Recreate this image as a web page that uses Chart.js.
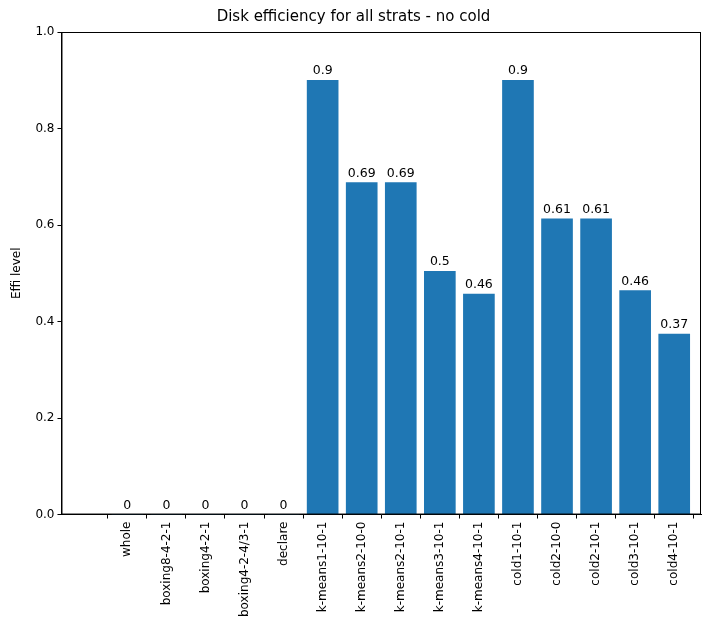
<!DOCTYPE html>
<html>
<head>
<meta charset="utf-8">
<script src="https://cdn.jsdelivr.net/npm/chart.js@4"></script>
<style>
  body { margin: 0; background: #fff; }
  #wrap { width: 711px; height: 640px; }
</style>
</head>
<body>
<div id="wrap"><canvas id="chart"></canvas></div>
<script>
const categories = ["whole", "boxing8-4-2-1", "boxing4-2-1", "boxing4-2-4/3-1", "declare",
  "k-means1-10-1", "k-means2-10-0", "k-means2-10-1", "k-means3-10-1", "k-means4-10-1",
  "cold1-10-1", "cold2-10-0", "cold2-10-1", "cold3-10-1", "cold4-10-1"];
const effiValues = [0, 0, 0, 0, 0, 0.9, 0.688, 0.688, 0.504, 0.457, 0.9, 0.613, 0.613, 0.464, 0.374];
const yTicks = [0, 0.2, 0.4, 0.6, 0.8, 1.0];

const font = { family: "DejaVu Sans", size: 12 };
const barColor = "#1f77b4";

// value labels above bars, like ax.bar_label
const barLabels = {
  id: "barLabels",
  afterDatasetsDraw(chart) {
    const ctx = chart.ctx;
    const meta = chart.getDatasetMeta(0);
    ctx.save();
    ctx.font = "12.5px DejaVu Sans";
    ctx.fillStyle = "#000";
    ctx.textAlign = "center";
    ctx.textBaseline = "bottom";
    meta.data.forEach((bar, i) => {
      const txt = String(Math.round(effiValues[i] * 100) / 100);
      ctx.fillText(txt, bar.x, bar.y - 3);
    });
    ctx.restore();
  }
};

// full box around the axes
const frame = {
  id: "frame",
  afterDraw(chart) {
    const a = chart.chartArea, ctx = chart.ctx;
    ctx.save();
    ctx.strokeStyle = "#000";
    ctx.lineWidth = 1;
    ctx.strokeRect(a.left + 0.5, a.top + 0.5, a.right - a.left - 1, a.bottom - a.top - 1);
    ctx.restore();
  }
};

new Chart(document.getElementById("chart"), {
  type: "bar",
  data: {
    datasets: [{
      label: "Effi level",
      data: effiValues.map((v, i) => ({ x: i, y: v })),
      backgroundColor: barColor,
      borderWidth: 0,
      barThickness: 31
    }]
  },
  options: {
    responsive: true,
    maintainAspectRatio: false,
    animation: false,
    layout: { padding: { left: 6, right: 10, top: 4, bottom: 20 } },
    plugins: {
      legend: { display: false },
      tooltip: { enabled: false },
      title: {
        display: true,
        text: "Disk efficiency for all strats - no cold",
        color: "#000",
        font: { family: "DejaVu Sans", size: 15, weight: "normal" },
        padding: { top: 4, bottom: 6 }
      }
    },
    scales: {
      x: {
        type: "linear",
        min: -1.14,
        max: 14.14,
        afterBuildTicks: s => { s.ticks = categories.map((c, i) => ({ value: i })); },
        ticks: {
          autoSkip: false,
          maxRotation: 90,
          minRotation: 90,
          color: "#000",
          font,
          callback: v => categories[v]
        },
        grid: { display: true, drawOnChartArea: false, drawTicks: true, tickLength: 4, color: "#000" },
        border: { display: true, color: "#000" }
      },
      y: {
        min: 0,
        max: 1,
        afterBuildTicks: s => { s.ticks = yTicks.map(v => ({ value: v })); },
        ticks: { color: "#000", font, callback: v => v.toFixed(1) },
        grid: { display: true, drawOnChartArea: false, drawTicks: true, tickLength: 4, color: "#000" },
        border: { display: true, color: "#000" },
        title: { display: true, text: "Effi level", color: "#000", font, padding: { top: 4, bottom: 8 } }
      }
    }
  },
  plugins: [barLabels, frame]
});
</script>
</body>
</html>
